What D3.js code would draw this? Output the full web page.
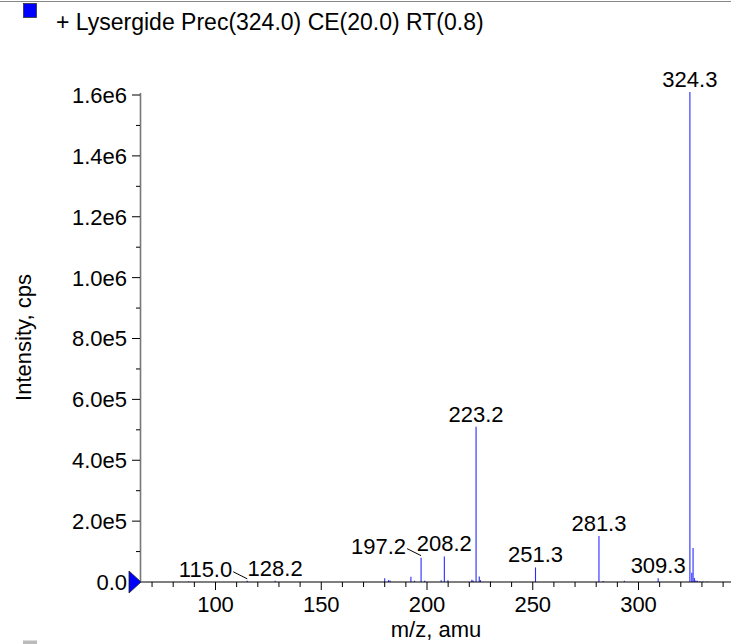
<!DOCTYPE html>
<html><head><meta charset="utf-8">
<script src="https://cdn.jsdelivr.net/npm/d3@7"></script>
<style>
html,body{margin:0;padding:0;background:#fff;}
svg{display:block;font-family:"Liberation Sans",Arial,Helvetica,sans-serif;}
</style></head>
<body>
<svg id="chart" width="731" height="644"></svg>
<script>
// ---- data ----
const title = "+ Lysergide Prec(324.0) CE(20.0) RT(0.8)";
const xTitle = "m/z, amu";
const yTitle = "Intensity, cps";
const peakMz = [87.3,115.0,128.2,180.0,181.8,182.5,192.4,194.1,197.2,198.9,206.7,208.2,209.9,221.2,221.8,223.2,224.7,225.3,230.1,251.3,281.3,283.3,293.3,309.3,324.3,325.2,325.8,326.4,327.1,327.8,329.0,330.5,332.5];
const peakInt = [2000,4000,4000,12000,6000,5000,17000,4000,80000,4000,6000,84000,6000,7000,5000,510000,18000,6000,2000,48000,151000,3000,4000,12000,1610000,30000,112000,13000,5000,4000,2500,2000,1500];
const labelMz = [115.0,128.2,197.2,208.2,223.2,251.3,281.3,309.3,324.3];
const labelText = ["115.0","128.2","197.2","208.2","223.2","251.3","281.3","309.3","324.3"];
const leaderLabels = ["115.0","197.2"];
const xMajorTicks = [100,150,200,250,300];
const yMajorTicks = [0,200000,400000,600000,800000,1000000,1200000,1400000,1600000];
const yTickLabels = ["0.0","2.0e5","4.0e5","6.0e5","8.0e5","1.0e6","1.2e6","1.4e6","1.6e6"];

// ---- layout ----
const svg = d3.select("#chart");
const x = d3.scaleLinear().domain([100,300]).range([215.5,638.5]);
const xMin = x.invert(141), xMax = x.invert(731);
x.domain([xMin,xMax]).range([141,731]);
const y = d3.scaleLinear().domain([0,1600000]).range([582,95]);

// top border
svg.append("line").attr("x1",0).attr("x2",731).attr("y1",1.5).attr("y2",1.5)
  .attr("stroke","#888").attr("stroke-width",1.2);

// legend swatch + title
svg.append("rect").attr("x",23.5).attr("y",3.5).attr("width",13).attr("height",14)
  .attr("fill","#0000ff").attr("stroke","#333").attr("stroke-width",0.8);
svg.append("text").attr("x",56).attr("y",30).attr("font-size",23)
  .attr("fill","#000").text(title);
// partially visible swatch at bottom
svg.append("rect").attr("x",23).attr("y",640.5).attr("width",14).attr("height",5)
  .attr("fill","#bbb");

// peaks
const peaks = peakMz.map((m,i)=>({m, v: peakInt[i]}));
svg.append("g").selectAll("line").data(peaks).join("line")
  .attr("x1",d=>x(d.m)).attr("x2",d=>x(d.m))
  .attr("y1",y(0)).attr("y2",d=>y(d.v))
  .attr("stroke","#2a2aff").attr("stroke-width",1.1);

// x axis
const xAxisG = svg.append("g").attr("transform",`translate(0,${y(0)})`);
xAxisG.append("line").attr("x1",141).attr("x2",731).attr("y1",0).attr("y2",0)
  .attr("stroke","#000").attr("stroke-width",1.2);
const xMinor = d3.range(70,341,10).filter(v=>!xMajorTicks.includes(v));
xAxisG.selectAll(".xmin").data(xMinor).join("line")
  .attr("x1",d=>x(d)).attr("x2",d=>x(d)).attr("y1",0).attr("y2",5)
  .attr("stroke","#000").attr("stroke-width",1);
xAxisG.selectAll(".xmaj").data(xMajorTicks).join("line")
  .attr("x1",d=>x(d)).attr("x2",d=>x(d)).attr("y1",0).attr("y2",8)
  .attr("stroke","#000").attr("stroke-width",1);
xAxisG.selectAll(".xlab").data(xMajorTicks).join("text")
  .attr("x",d=>x(d)).attr("y",30).attr("text-anchor","middle")
  .attr("font-size",22).attr("fill","#000").text(d=>d);
svg.append("text").attr("x",(141+731)/2).attr("y",637).attr("text-anchor","middle")
  .attr("font-size",22).attr("fill","#000").text(xTitle);

// y axis
const yAxisG = svg.append("g");
yAxisG.append("line").attr("x1",140.5).attr("x2",140.5).attr("y1",93).attr("y2",y(0))
  .attr("stroke","#777").attr("stroke-width",1.6);
const yMinor = d3.range(100000,1600000,200000);
yAxisG.selectAll(".ymin").data(yMinor).join("line")
  .attr("x1",136).attr("x2",140).attr("y1",d=>y(d)).attr("y2",d=>y(d))
  .attr("stroke","#000").attr("stroke-width",1);
yAxisG.selectAll(".ymaj").data(yMajorTicks).join("line")
  .attr("x1",132).attr("x2",140).attr("y1",d=>y(d)).attr("y2",d=>y(d))
  .attr("stroke","#000").attr("stroke-width",1);
yAxisG.selectAll(".ylab").data(yMajorTicks).join("text")
  .attr("x",127).attr("y",d=>y(d)).attr("dy","0.36em").attr("text-anchor","end")
  .attr("font-size",22).attr("fill","#000").text((d,i)=>yTickLabels[i]);
svg.append("text").attr("transform",`translate(31,${(93+582)/2}) rotate(-90)`)
  .attr("text-anchor","middle").attr("font-size",22).attr("fill","#000").text(yTitle);

// origin marker
svg.append("path")
  .attr("d",`M129,${y(0)-11} L129,${y(0)+11} L141,${y(0)} Z`)
  .attr("fill","#0000ff").attr("stroke","#222").attr("stroke-width",0.8);

// peak labels
const lab = labelMz.map((m,i)=>{
  const idx = peakMz.indexOf(m);
  return {m, v: peakInt[idx], t: labelText[i], lead: leaderLabels.includes(labelText[i])};
});
const lg = svg.append("g");
lab.forEach(d=>{
  const px = x(d.m), py = y(d.v);
  if (d.lead) {
    lg.append("text").attr("x",px-15).attr("y",py-4).attr("text-anchor","end")
      .attr("font-size",22).attr("fill","#000").text(d.t);
    lg.append("line").attr("x1",px-14).attr("y1",py-9).attr("x2",px).attr("y2",py-2)
      .attr("stroke","#000").attr("stroke-width",1);
  } else {
    lg.append("text").attr("x",px).attr("y",py-5).attr("text-anchor","middle")
      .attr("font-size",22).attr("fill","#000").text(d.t);
  }
});
</script>
</body></html>
